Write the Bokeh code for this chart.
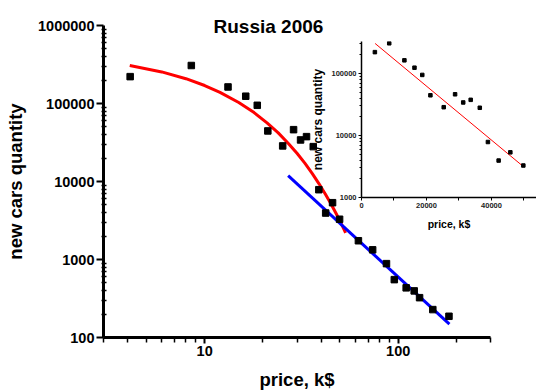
from bokeh.plotting import figure
from bokeh.models import FixedTicker, NumeralTickFormatter, Range1d
from bokeh.embed import file_html
from bokeh.resources import INLINE

# ---- data ----
price_k = [4.12, 8.53, 13.2, 16.3, 18.7, 21.2, 25.3, 28.8, 31.3, 33.6, 36.4, 38.9,
           42.2, 45.8, 49.8, 62.3, 73.8, 87.0, 95.5, 110, 121, 129, 151, 183]
quantity = [221000, 307000, 163000, 124000, 94800, 44500, 28600, 46200, 34100, 37600,
            28000, 7850, 3940, 5350, 3280, 1740, 1330, 885, 552, 433, 396, 324, 228, 187]

# red (exponential) fit curve
fit_price = [4.1, 6, 8, 10, 12, 15, 18, 21, 24, 27, 30, 33, 36, 39, 42, 45, 48, 51, 53.5]
fit_qty = [307000, 254000, 208000, 170000, 139000, 103000, 76500, 56400, 42000, 31000,
           23000, 17100, 12600, 9340, 6920, 5140, 3800, 2820, 2200]

# blue (power law) fit line
blue_price = [27, 184]
blue_qty = [11900, 148]

# inset: the first 15 cars, price in $ on a linear axis
inset_price = [4120, 8530, 13200, 16300, 18700, 21200, 25300, 28800, 31300, 33600,
               36400, 38900, 42200, 45800, 49800]
inset_qty = [221000, 307000, 163000, 124000, 94800, 44500, 28600, 46200, 34100, 37600,
             28000, 7850, 3940, 5350, 3280]
inset_fit_price = [4185, 49540]
inset_fit_qty = [305000, 3240]

# ticks
main_x_ticks = [10, 100]
main_y_ticks = [100, 1000, 10000, 100000, 1000000]
inset_x_ticks = [0, 20000, 40000]
inset_x_minor = [10000, 30000, 50000]
inset_y_ticks = [1000, 10000, 100000]

FONT = "Liberation Sans"


def log_minor(lo_exp, hi_exp, upper):
    out = []
    for e in range(lo_exp, hi_exp + 1):
        for m in range(2, 10):
            v = m * 10 ** e
            if v <= upper:
                out.append(v)
    return out


# ---- main figure ----
p = figure(x_axis_type="log", y_axis_type="log",
           x_range=Range1d(3, 300), y_range=Range1d(100, 1000000),
           width=536, height=392,
           min_border_left=103, min_border_right=46, min_border_top=25, min_border_bottom=55,
           output_backend="svg", toolbar_location=None,
           title="Russia 2006")
p.xgrid.visible = False
p.ygrid.visible = False
p.outline_line_color = None
p.background_fill_color = "white"
p.border_fill_color = "white"

p.title.text_font = FONT
p.title.text_font_style = "bold"
p.title.text_font_size = "19px"
p.title.text_color = "black"
p.title.align = "left"
p.title.offset = 110
p.title.vertical_align = "bottom"
p.title.standoff = -22

p.xaxis.ticker = FixedTicker(ticks=main_x_ticks, minor_ticks=[3, 4, 5, 6, 7, 8, 9] + log_minor(1, 2, 300))
p.yaxis.ticker = FixedTicker(ticks=main_y_ticks, minor_ticks=log_minor(2, 5, 1000000))
for ax in (p.xaxis[0], p.yaxis[0]):
    ax.formatter = NumeralTickFormatter(format="0")
    ax.axis_line_width = 3
    ax.axis_line_color = "black"
    ax.major_tick_line_width = 2
    ax.minor_tick_line_width = 1.5
    ax.major_tick_in = 0
    ax.major_label_text_font = FONT
    ax.major_label_text_font_style = "bold"
    ax.major_label_text_font_size = "14.5px"
    ax.major_label_text_color = "black"
    ax.major_label_standoff = 2
    ax.axis_label_text_font = FONT
    ax.axis_label_text_font_style = "bold"
    ax.axis_label_text_font_size = "18.5px"
    ax.axis_label_text_color = "black"
p.xaxis.axis_label = "price, k$"
p.yaxis.axis_label = "new cars quantity"
p.xaxis.axis_label_standoff = 10
p.yaxis.axis_label_standoff = 9
p.xaxis.major_tick_out = 6
p.xaxis.minor_tick_out = 5
p.xaxis.minor_tick_in = 0
p.yaxis.major_tick_out = 7
p.yaxis.minor_tick_out = 2
p.yaxis.minor_tick_in = 3

p.line(fit_price, fit_qty, line_color="#ff0000", line_width=3)
p.line(blue_price, blue_qty, line_color="#0000ff", line_width=3)
p.scatter(price_k, quantity, marker="square", size=6.5, fill_color="black", line_color="black")

# ---- inset figure (transparent, overlaid on the main one) ----
q = figure(y_axis_type="log",
           x_range=Range1d(0, 53850), y_range=Range1d(1000, 328000),
           width=536, height=196,
           min_border_left=361, min_border_right=0, min_border_top=5, min_border_bottom=35,
           output_backend="svg", toolbar_location=None,
           margin=(-356, 0, 0, 0))
q.xgrid.visible = False
q.ygrid.visible = False
q.outline_line_color = None
q.background_fill_color = None
q.border_fill_color = None

q.xaxis.ticker = FixedTicker(ticks=inset_x_ticks, minor_ticks=inset_x_minor)
q.yaxis.ticker = FixedTicker(ticks=inset_y_ticks, minor_ticks=log_minor(3, 5, 328000))
for ax in (q.xaxis[0], q.yaxis[0]):
    ax.formatter = NumeralTickFormatter(format="0")
    ax.axis_line_width = 1.5
    ax.axis_line_color = "black"
    ax.major_tick_line_width = 1
    ax.minor_tick_line_width = 1
    ax.major_tick_in = 0
    ax.major_tick_out = 3
    ax.minor_tick_in = 0
    ax.minor_tick_out = 2
    ax.major_label_text_font = FONT
    ax.major_label_text_font_style = "bold"
    ax.major_label_text_font_size = "7.5px"
    ax.major_label_text_color = "#222222"
    ax.major_label_standoff = 2
    ax.axis_label_text_font = FONT
    ax.axis_label_text_font_style = "bold"
    ax.axis_label_text_color = "black"
q.xaxis.minor_tick_out = 3
q.xaxis.axis_label = "price, k$"
q.xaxis.axis_label_text_font_size = "10.5px"
q.xaxis.axis_label_standoff = 7
q.yaxis.axis_label = "new cars quantity"
q.yaxis.axis_label_text_font_size = "12px"
q.yaxis.axis_label_standoff = 3

q.line(inset_fit_price, inset_fit_qty, line_color="#ff0000", line_width=1)
q.scatter(inset_price, inset_qty, marker="square", size=3.5, fill_color="black", line_color="black")

open("out.html", "w").write(file_html([p, q], INLINE))
